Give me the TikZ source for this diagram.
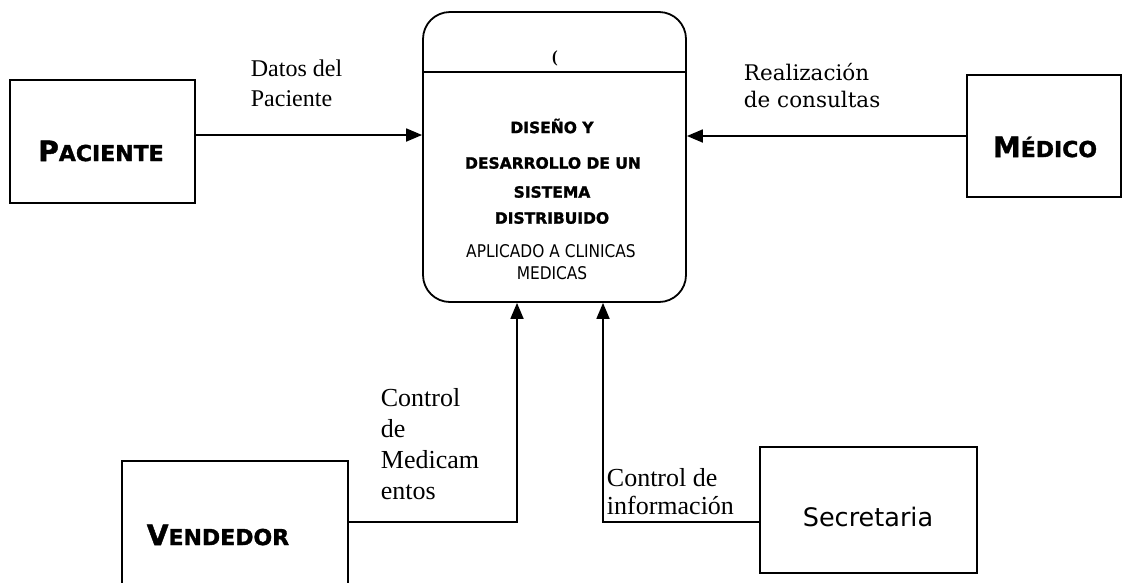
\documentclass[tikz,border=0pt]{standalone}
\usepackage{fontspec}
\setmainfont{Liberation Serif}
\newfontfamily\dv{DejaVu Sans}
\newfontfamily\dvh[BoldFeatures={FakeBold=1.5}]{DejaVu Sans}
\newfontfamily\dvc[FakeStretch=0.88]{DejaVu Sans}
\newfontfamily\dvs{DejaVu Serif}
\usetikzlibrary{arrows.meta}
\newcommand\fsz[2]{\fontsize{#1}{#2}\selectfont}
\newcommand\sce[2]{{\fsz{28}{30}#1}{\fsz{22}{26}#2}}
\begin{document}
\begin{tikzpicture}[x=1pt,y=-1pt, line width=1.8pt,
  ent/.style={draw, rectangle, inner sep=0pt},
  arr/.style={-{Triangle[length=16pt,width=13pt]}},
  lab/.style={inner sep=0pt, align=left, anchor=west},
  boxtxt/.style={inner sep=0pt, font=\dvh\bfseries},
  systxt/.style={inner sep=0pt, font=\dvh\bfseries\fsz{15.5}{18}},
  sysreg/.style={inner sep=0pt, font=\dvc\fsz{17.5}{20}}
]
\useasboundingbox (0,0) rectangle (1123,582);
% entities
\node[ent, minimum width=185pt, minimum height=123pt] (pac) at (102.5,141.5) {};
\node[ent, minimum width=154pt, minimum height=122pt] (med) at (1044,136) {};
\node[ent, minimum width=226pt, minimum height=140pt] (vend) at (235,531) {};
\node[ent, minimum width=217pt, minimum height=126pt] (sec) at (868.5,510) {};
% system
\node[draw, rounded corners=27pt, minimum width=263pt, minimum height=290pt, inner sep=0pt] (sys) at (554.5,157) {};
\coordinate (dv) at (0,72);
\draw (sys.west |- dv) -- (sys.east |- dv);
\node[inner sep=0pt, font=\bfseries\fsz{17}{20}] (par) at (555,58) {(};
\node[systxt] (c1) at (552,126) {DISEÑO Y};
\node[systxt] (c2) at (553,163) {DESARROLLO DE UN};
\node[systxt] (c3) at (552,192) {SISTEMA};
\node[systxt] (c4) at (552,218) {DISTRIBUIDO};
\node[sysreg] (c5) at (551,251) {APLICADO A CLINICAS};
\node[sysreg] (c6) at (552,273) {MEDICAS};
% entity texts
\node[boxtxt] (tp) at (101,151) {\sce{P}{ACIENTE}};
\node[boxtxt] (tm) at (1045,147) {\sce{M}{ÉDICO}};
\node[boxtxt] (tv) at (218,535) {\sce{V}{ENDEDOR}};
\node[inner sep=0pt, font=\dv\fsz{25.5}{30}] (ts) at (868,517) {Secretaria};
% connectors
\coordinate (pa) at ([yshift=6.5pt]pac.east);
\draw[arr] (pa) -- (pa -| sys.west);
\draw[arr] (med.west) -- (med.west -| sys.east);
\coordinate (va) at ([yshift=9pt]vend.east);
\coordinate (vb) at ([xshift=-37.5pt]sys.south);
\draw[arr] (va) -| (vb);
\coordinate (sa) at ([yshift=-12pt]sec.west);
\coordinate (sb) at ([xshift=48.5pt]sys.south);
\draw[arr] (sa) -| (sb);
% labels
\node[lab, font=\fsz{24}{30}] (l1) at (250,83) {Datos del\\Paciente};
\node[lab, font=\dvs\fsz{21.5}{27}] (l2) at (743,86) {Realización\\de consultas};
\node[lab, font=\fsz{26}{31}] (l3) at (380,444) {Control\\de\\Medicam\\entos};
\node[lab, font=\fsz{26}{28}] (l4) at (606,492) {Control de\\información};
\end{tikzpicture}
\end{document}
